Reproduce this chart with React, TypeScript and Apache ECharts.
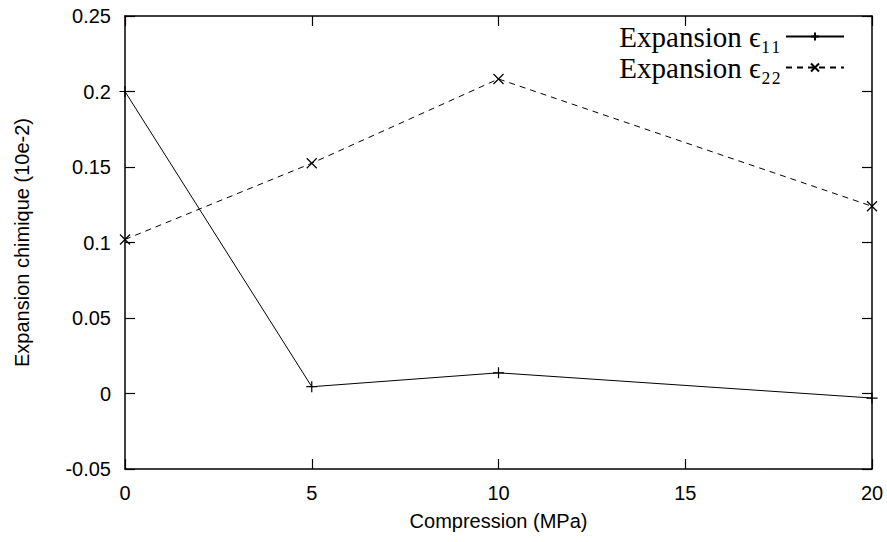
import React, { useEffect, useRef } from "react";
import * as echarts from "echarts";

const compression = [0, 5, 10, 20];
const eps11 = [0.2, 0.0045, 0.0137, -0.003];
const eps22 = [0.102, 0.1525, 0.2083, 0.124];
const seriesNames = ["Expansion ϵ₁₁", "Expansion ϵ₂₂"];
const xTicks = { min: 0, max: 20, interval: 5 };
const yTicks = { min: -0.05, max: 0.25, interval: 0.05 };

const PLUS = "path://M0,5L10,5M5,0L5,10";
const CROSS = "path://M0,0L10,10M10,0L0,10";

export default function App() {
  const ref = useRef<HTMLDivElement>(null);
  useEffect(() => {
    if (!ref.current) return;
    const chart = echarts.init(ref.current, null, { renderer: "svg" });
    const axisFont = { fontFamily: "Liberation Sans, Arial, sans-serif", fontSize: 20, color: "#000" };
    const axisLine = { show: true, onZero: false, lineStyle: { color: "#000", width: 1.5 } };
    const tick = { show: true, inside: true, length: 10, lineStyle: { color: "#000", width: 1.2 } };
    const baseX = { type: "value", ...xTicks, axisLine, axisTick: tick, splitLine: { show: false } };
    const baseY = { type: "value", ...yTicks, axisLine, axisTick: tick, splitLine: { show: false } };
    chart.setOption({
      animation: false,
      backgroundColor: "#fff",
      grid: { left: 125, right: 15, top: 16, bottom: 73, containLabel: false },
      legend: {
        orient: "vertical",
        right: 37,
        top: 17,
        align: "right",
        itemWidth: 58,
        itemHeight: 10,
        itemGap: 2,
        textStyle: { fontFamily: "Liberation Serif, Times New Roman, serif", fontSize: 29, color: "#000" },
        data: seriesNames,
      },
      xAxis: [
        {
          ...baseX,
          position: "bottom",
          axisLabel: { ...axisFont, margin: 14 },
          name: "Compression (MPa)",
          nameLocation: "middle",
          nameGap: 42,
          nameTextStyle: axisFont,
        },
        { ...baseX, position: "top", axisLabel: { show: false } },
      ],
      yAxis: [
        {
          ...baseY,
          position: "left",
          axisLabel: { ...axisFont, margin: 14 },
          name: "Expansion chimique (10e-2)",
          nameLocation: "middle",
          nameGap: 93,
          nameTextStyle: axisFont,
        },
        { ...baseY, position: "right", axisLabel: { show: false } },
      ],
      series: [
        {
          name: seriesNames[0],
          type: "line",
          data: compression.map((x, i) => [x, eps11[i]]),
          symbol: PLUS,
          symbolSize: 11,
          color: "#000",
          itemStyle: { color: "#000", borderColor: "#000", borderWidth: 1.2 },
          lineStyle: { color: "#000", width: 1 },
        },
        {
          name: seriesNames[1],
          type: "line",
          data: compression.map((x, i) => [x, eps22[i]]),
          symbol: CROSS,
          symbolSize: 10,
          color: "#000",
          itemStyle: { color: "#000", borderColor: "#000", borderWidth: 1.2 },
          lineStyle: { color: "#000", width: 1, type: [6, 5] },
        },
      ],
    });
    return () => chart.dispose();
  }, []);
  return <div ref={ref} style={{ position: "fixed", left: 0, top: 0, width: 887, height: 542, background: "#fff" }} />;
}
